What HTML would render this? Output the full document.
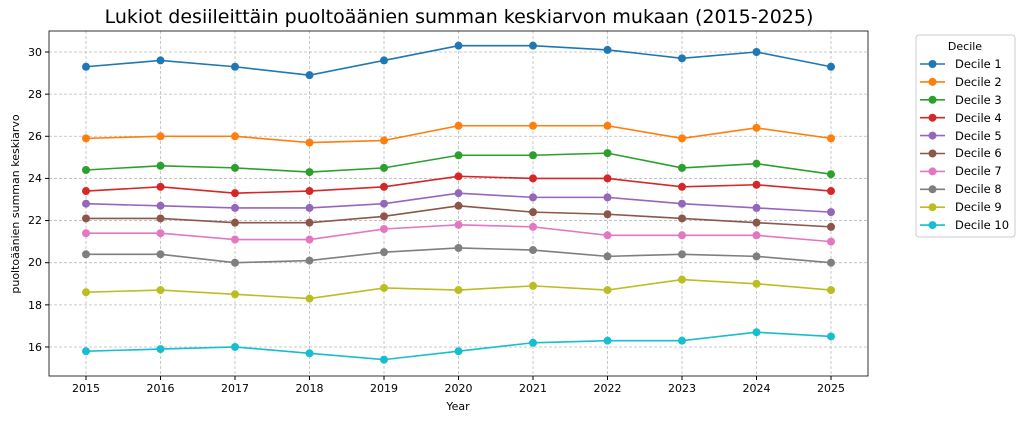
<!DOCTYPE html>
<html><head><meta charset="utf-8"><style>
body{margin:0;background:#fff;}
svg{font-family:"DejaVu Sans","Liberation Sans",sans-serif;}
</style></head><body>
<svg id="s" width="1023" height="421" xmlns="http://www.w3.org/2000/svg">
<rect width="1023" height="421" fill="#fff"/>
<g id="grid"></g>
<rect x="49" y="31" width="819" height="345" fill="none" stroke="#000" stroke-width="0.8"/>
<text x="459" y="23" font-size="19" text-anchor="middle">Lukiot desiileittäin puoltoäänien summan keskiarvon mukaan (2015-2025)</text>
<text x="458" y="410" font-size="11" text-anchor="middle">Year</text>
<text transform="translate(19,204) rotate(-90)" font-size="11" text-anchor="middle">puoltoäänien summan  keskiarvo</text>
<g font-size="11" text-anchor="middle">
<text x="86" y="392">2015</text><text x="160.5" y="392">2016</text><text x="235" y="392">2017</text><text x="309.5" y="392">2018</text><text x="384" y="392">2019</text><text x="458.5" y="392">2020</text><text x="533" y="392">2021</text><text x="607.5" y="392">2022</text><text x="682" y="392">2023</text><text x="756.5" y="392">2024</text><text x="831" y="392">2025</text>
</g>
<g font-size="11" text-anchor="end">
<text x="42" y="56">30</text><text x="42" y="98">28</text><text x="42" y="140">26</text><text x="42" y="182">24</text><text x="42" y="224">22</text><text x="42" y="266">20</text><text x="42" y="309">18</text><text x="42" y="351">16</text>
</g>
<g id="series"></g>
<rect x="916" y="35" width="99" height="202" rx="3" fill="#fff" stroke="#ccc"/>
<text x="965" y="50" font-size="11" text-anchor="middle">Decile</text>
<g id="leg"></g>
<g font-size="11.5">
<text x="955" y="68">Decile 1</text><text x="955" y="86">Decile 2</text><text x="955" y="104">Decile 3</text><text x="955" y="122">Decile 4</text><text x="955" y="140">Decile 5</text><text x="955" y="157">Decile 6</text><text x="955" y="175">Decile 7</text><text x="955" y="193">Decile 8</text><text x="955" y="211">Decile 9</text><text x="955" y="229">Decile 10</text>
</g>
</svg>
<script>
const C=["#1f77b4","#ff7f0e","#2ca02c","#d62728","#9467bd","#8c564b","#e377c2","#7f7f7f","#bcbd22","#17becf"];
const D=[[29.3,29.6,29.3,28.9,29.6,30.3,30.3,30.1,29.7,30.0,29.3],
[25.9,26.0,26.0,25.7,25.8,26.5,26.5,26.5,25.9,26.4,25.9],
[24.4,24.6,24.5,24.3,24.5,25.1,25.1,25.2,24.5,24.7,24.2],
[23.4,23.6,23.3,23.4,23.6,24.1,24.0,24.0,23.6,23.7,23.4],
[22.8,22.7,22.6,22.6,22.8,23.3,23.1,23.1,22.8,22.6,22.4],
[22.1,22.1,21.9,21.9,22.2,22.7,22.4,22.3,22.1,21.9,21.7],
[21.4,21.4,21.1,21.1,21.6,21.8,21.7,21.3,21.3,21.3,21.0],
[20.4,20.4,20.0,20.1,20.5,20.7,20.6,20.3,20.4,20.3,20.0],
[18.6,18.7,18.5,18.3,18.8,18.7,18.9,18.7,19.2,19.0,18.7],
[15.8,15.9,16.0,15.7,15.4,15.8,16.2,16.3,16.3,16.7,16.5]];
const X=i=>86+i*74.5, Y=v=>52+(30-v)*21.07;
let g='';
for(let i=0;i<11;i++)g+=`<line x1="${X(i)}" x2="${X(i)}" y1="31" y2="376" stroke="#bbb" stroke-width="0.8" stroke-dasharray="3,2"/><line x1="${X(i)}" x2="${X(i)}" y1="376" y2="380" stroke="#000"/>`;
for(let v=16;v<=30;v+=2)g+=`<line x1="49" x2="868" y1="${Y(v)}" y2="${Y(v)}" stroke="#bbb" stroke-width="0.8" stroke-dasharray="3,2"/><line x1="45" x2="49" y1="${Y(v)}" y2="${Y(v)}" stroke="#000"/>`;
document.getElementById('grid').innerHTML=g;
let s='',l='';
D.forEach((d,k)=>{s+=`<polyline fill="none" stroke="${C[k]}" stroke-width="1.6" points="${d.map((v,i)=>X(i)+','+Y(v)).join(' ')}"/>`;
d.forEach((v,i)=>s+=`<circle cx="${X(i)}" cy="${Y(v)}" r="4" fill="${C[k]}"/>`);
const y=64+k*17.9;l+=`<line x1="920" x2="945" y1="${y}" y2="${y}" stroke="${C[k]}" stroke-width="1.6"/><circle cx="932.5" cy="${y}" r="4" fill="${C[k]}"/>`;});
document.getElementById('series').innerHTML=s;
document.getElementById('leg').innerHTML=l;
</script>
</body></html>
